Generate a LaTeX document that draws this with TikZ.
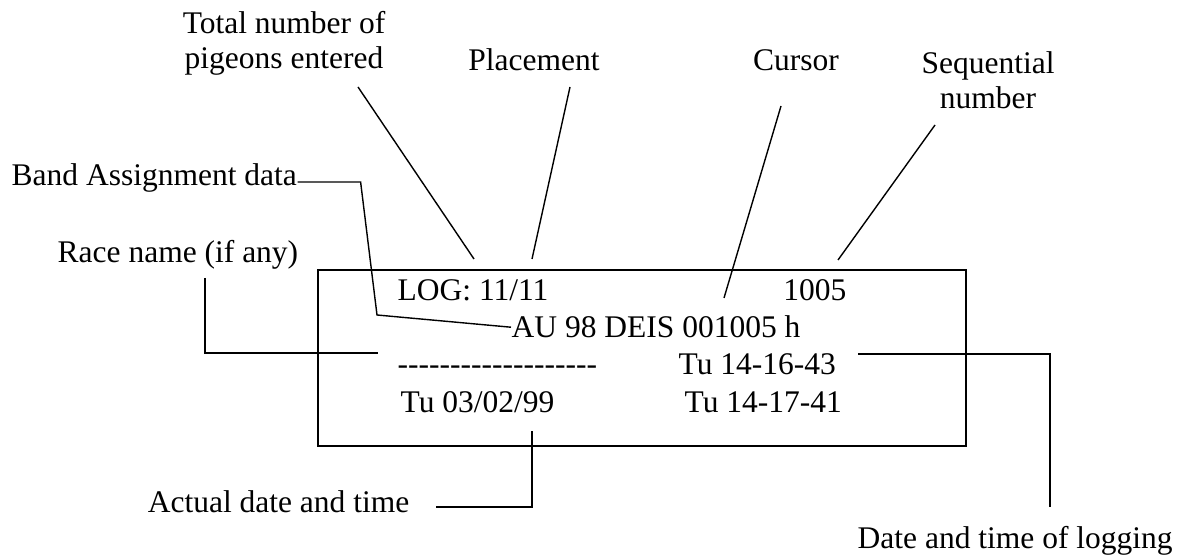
\documentclass[tikz,border=0pt]{standalone}
\usepackage{fontspec}
\setmainfont{Liberation Serif}
\newcommand{\hy}{\mbox{-}}

\begin{document}
\begin{tikzpicture}[x=50pt, y=50pt, line width=0.7pt,
    lbl/.style={font=\fontsize{15.75}{17.5}\selectfont, inner sep=0pt},
    screen/.style={line width=1.25pt},
    elbow/.style={line width=1pt}]
    \useasboundingbox (0,0) rectangle (11.82,5.56);

    % Display
    \draw[screen] (3.18,2.86) rectangle (9.66,1.10);
    \node[lbl, anchor=base west] (log) at (3.97,2.55) {LOG: 11/11};
    \node[lbl, anchor=base east] (seqno) at (8.47,2.55) {1005};
    \node[lbl, anchor=base west] (au) at (5.11,2.18) {AU 98 DEIS 001005 h};
    \node[lbl, anchor=base west] (dashes) at (3.97,1.81) {\hy\hy\hy\hy\hy\hy\hy\hy\hy\hy\hy\hy\hy\hy\hy\hy\hy\hy\hy};
    \node[lbl, anchor=base west] (logtime) at (6.78,1.81) {Tu 14-16-43};
    \node[lbl, anchor=base west] (nowdate) at (4.00,1.43) {Tu 03/02/99};
    \node[lbl, anchor=base west] (nowtime) at (6.84,1.43) {Tu 14-17-41};

    % Labels
    \node[lbl, anchor=base, align=center] (total) at (2.84,4.87) {Total number of\\pigeons entered};
    \node[lbl, anchor=base] (placement) at (5.34,4.85) {Placement};
    \node[lbl, anchor=base] (cursor) at (7.96,4.85) {Cursor};
    \node[lbl, anchor=base, align=center] (seq) at (9.88,4.47) {Sequential\\number};
    \node[lbl, anchor=base west] (band) at (0.11,3.70) {Band Assignment data};
    \node[lbl, anchor=base west] (race) at (0.57,2.93) {Race name (if any)};
    \node[lbl, anchor=base east] (actual) at (4.10,0.43) {Actual date and time};
    \node[lbl, anchor=base west] (logging) at (8.57,0.07) {Date and time of logging};

    % Leaders
    \coordinate (total-a) at (3.58,4.69);
    \coordinate (total-b) at (4.74,2.97);
    \coordinate (placement-a) at (5.70,4.69);
    \coordinate (placement-b) at (5.32,2.97);
    \coordinate (cursor-a) at (7.81,4.50);
    \coordinate (cursor-b) at (7.24,2.58);
    \coordinate (seq-a) at (9.35,4.31);
    \coordinate (seq-b) at (8.38,2.96);
    \coordinate (band-bend) at (3.77,2.41);
    \coordinate (race-top) at (2.05,2.78);
    \coordinate (race-end) at (3.78,2.03);
    \coordinate (logtime-end) at (8.58,2.02);
    \coordinate (logging-top) at (10.50,0.49);
    \coordinate (nowdate-foot) at (5.32,1.25);

    \draw (total-a) -- (total-b);
    \draw (placement-a) -- (placement-b);
    \draw (cursor-a) -- (cursor-b);
    \draw (seq-a) -- (seq-b);
    \draw ([yshift=2pt]band.base east) -- ++(0.63,0) -- (band-bend) -- (au.west);
    \draw[elbow] (race-top) |- (race-end);
    \draw[elbow] (logtime-end) -| (logging-top);
    \draw[elbow] ([shift={(0.26,0.06)}]actual.base east) -| (nowdate-foot);
\end{tikzpicture}
\end{document}
